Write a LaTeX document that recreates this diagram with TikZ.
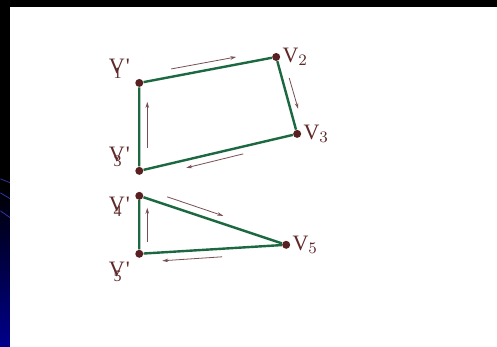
\documentclass[tikz,border=0pt]{standalone}
\usepackage{fontspec}
\setmainfont{Liberation Serif}
\usetikzlibrary{positioning,arrows.meta}
\definecolor{edgegreen}{RGB}{28,104,64}
\definecolor{dotbrown}{RGB}{88,32,32}
\definecolor{arrbrown}{RGB}{120,80,84}
\definecolor{txtbrown}{RGB}{96,40,40}
\definecolor{navy}{RGB}{0,0,140}
% V with its subscript pushed under the letter
\newcommand{\vsub}[1]{\makebox[0pt][l]{\hspace{0.22em}\raisebox{-0.45ex}{\footnotesize #1}}V\kern0.05em\textquotesingle}
\begin{document}
\begin{tikzpicture}[x=0.5pt,y=-0.5pt,
      dot/.style={circle,fill=dotbrown,inner sep=0pt,minimum size=4pt},
      lab/.style={inner sep=0pt,text=txtbrown,font=\fontsize{11}{13}\selectfont},
      edge/.style={edgegreen,line width=1.2pt},
      dir/.style={arrbrown,line width=0.4pt,-{Stealth[length=3pt,width=1.8pt]}}]
      % frame
      \fill[black] (0,0) rectangle (497,347);
      \shade[top color=black,bottom color=navy] (0,185) rectangle (10,347);
      \foreach \ya/\yb in {179/183,193/199,211/218}
        \draw[navy!80,line width=0.4pt] (0,\ya) -- (10,\yb);
      \fill[white] (10,7) rectangle (497,347);
      % vertices
      \node[dot] (v1) at (139,83) {};
      \node[dot] (v2) at (276,57) {};
      \node[dot] (v3) at (297,134) {};
      \node[dot] (w3) at (139,171) {};
      \node[dot] (w4) at (139,196) {};
      \node[dot] (v5) at (286,245) {};
      \node[dot] (w5) at (139,254) {};
      % labels
      \node[lab] (l1) at (119,69) {\vsub{1}};
      \node[lab,right=0.8pt of v2] (l2) {V$_2$};
      \node[lab,right=0.8pt of v3] (l3) {V$_3$};
      \node[lab] (k3) at (119,157) {\vsub{3}};
      \node[lab] (k4) at (119,207) {\vsub{4}};
      \node[lab,right=0.8pt of v5] (l5) {V$_5$};
      \node[lab] (k5) at (119,272) {\vsub{5}};
      % polygons
      \draw[edge] (v1) -- (v2) -- (v3) -- (w3) -- (v1);
      \draw[edge] (w4) -- (v5) -- (w5) -- (w4);
      % direction arrows
      \draw[dir] (171,69) -- (236,57);
      \draw[dir] (289,78) -- (298,109);
      \draw[dir] (243,154) -- (186,168);
      \draw[dir] (147,148) -- (147,102);
      \draw[dir] (167,197) -- (223,216);
      \draw[dir] (222,257) -- (162,261);
      \draw[dir] (147,242) -- (147,208);
    \end{tikzpicture}
\end{document}
